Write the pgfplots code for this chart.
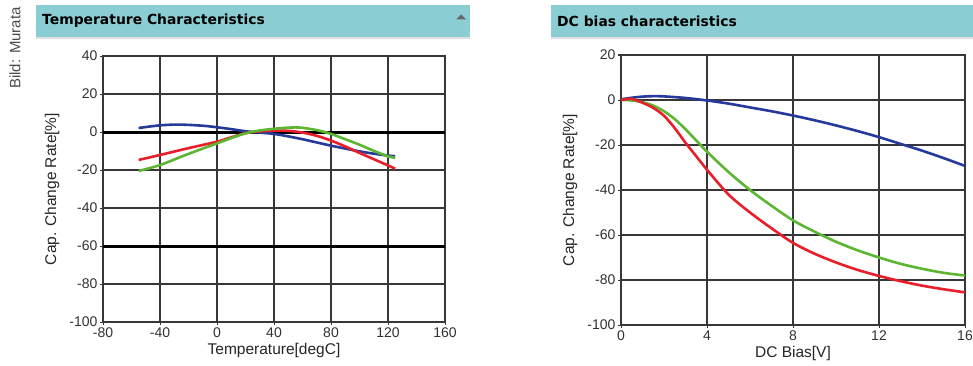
\documentclass[border=0pt]{standalone}
\usepackage{pgfplots}
\pgfplotsset{compat=1.18}
\usepackage{fontspec}
\setmainfont{Liberation Sans}
\newfontfamily\titlefont{DejaVu Sans}
\definecolor{barteal}{RGB}{138,206,211}
\definecolor{cblue}{RGB}{38,58,155}
\definecolor{cred}{RGB}{232,30,42}
\definecolor{cgreen}{RGB}{92,182,50}
\definecolor{gridc}{RGB}{55,55,55}
\definecolor{tickc}{RGB}{50,50,50}
\pgfplotsset{
  mychart/.style={
    scale only axis,
    grid=major,
    grid style={line width=2pt, gridc},
    axis line style={line width=2pt, gridc},
    tick align=outside, major tick length=3pt, tick pos=left,
    tick style={line width=1pt, gridc},
    ymin=-100, ymax=40,
    ytick={-100,-80,...,40},
    /pgf/number format/assume math mode=true,
    ticklabel style={font=\fontsize{14}{14}\selectfont, text=tickc},
    yticklabel style={xshift=1pt},
    xticklabel style={yshift=1pt},
    label style={font=\fontsize{15.5}{16}\selectfont, text=black!85},
    ylabel style={at={([xshift=-51pt]axis description cs:0,0.5)}, anchor=center},
    xlabel style={at={([yshift=-28pt]axis description cs:0.5,0)}, anchor=center},
    every axis plot/.append style={line width=2.6pt, smooth, no markers},
  }
}
\begin{document}
\begin{tikzpicture}[x=1pt,y=1pt]
\useasboundingbox (0,0) rectangle (973,365);
\fill[white] (0,0) rectangle (973,365);
% title bars
\fill[black!12] (36,325.5) rectangle (470,328.5);
\fill[barteal] (36,328) rectangle (470,360);
\node[anchor=west, inner sep=0pt] at (42,344) {\titlefont\bfseries\fontsize{13.9}{14}\selectfont Temperature Characteristics};
\fill[black!60] (456,345.5) -- (466,345.5) -- (461,350.5) -- cycle;
\fill[black!12] (551,325.5) rectangle (973,328.5);
\fill[barteal] (551,328) rectangle (973,360);
\node[anchor=west, inner sep=0pt] at (557,344) {\titlefont\bfseries\fontsize{13.9}{14}\selectfont DC bias characteristics};
\node[rotate=90, text=black!70, inner sep=0pt] at (15,317) {\fontsize{15}{15}\selectfont Bild: Murata};

\begin{axis}[mychart, at={(103pt,43pt)}, anchor=south west, width=342pt, height=266pt,
  xmin=-80, xmax=160, xtick={-80,-40,...,160},
  extra y ticks={0,-60}, extra y tick labels={},
  extra y tick style={grid style={line width=3pt, black}, major tick length=0pt},
  xlabel={Temperature[degC]}, ylabel={Cap. Change Rate[\%]}]
\addplot[cblue] coordinates {(-55,2.1) (-40,3.5) (-26,3.9) (-10,3.3) (0,2.5) (10,1.5) (20,0.4) (30,-0.3) (40,-1.0) (50,-2.3) (60,-3.8) (70,-5.5) (80,-7.2) (90,-8.7) (100,-10.2) (110,-11.4) (120,-12.4) (125,-12.8)};
\addplot[cred] coordinates {(-55,-14.7) (-40,-12.1) (-20,-8.5) (0,-5.1) (10,-2.8) (20,-0.6) (30,0.3) (40,0.7) (50,0.6) (60,-0.3) (70,-2) (80,-4.5) (90,-7.6) (100,-11) (110,-14.3) (120,-17.6) (125,-19.3)};
\addplot[cgreen] coordinates {(-55,-20.5) (-40,-17.4) (-20,-11.5) (0,-6) (10,-3.2) (20,-0.7) (30,0.8) (40,1.7) (50,2.3) (55,2.4) (60,2.2) (70,1) (80,-1) (90,-3.8) (100,-6.7) (110,-9.9) (120,-12.8) (125,-13.6)};
\end{axis}

\begin{axis}[mychart, at={(621pt,40pt)}, anchor=south west, width=344pt, height=270pt,
  xmin=0, xmax=16, xtick={0,4,...,16},
  ymax=20, ytick={-100,-80,...,20},
  xlabel={DC Bias[V]}, ylabel={Cap. Change Rate[\%]}]
\addplot[cblue] coordinates {(0,0.3) (0.5,1) (1,1.5) (1.5,1.7) (2,1.6) (3,0.9) (4,-0.2) (5,-1.6) (6,-3.3) (7,-5) (8,-6.9) (9,-9) (10,-11.3) (11,-13.8) (12,-16.5) (13,-19.5) (14,-22.5) (15,-25.8) (16,-29.3)};
\addplot[cgreen] coordinates {(0,0) (0.5,-0.2) (1,-1) (1.5,-2.5) (2,-5) (2.5,-8.5) (3,-13) (3.5,-18) (4,-23) (5,-32) (6,-40) (7,-47) (8,-53.5) (9,-58.5) (10,-63) (11,-66.8) (12,-70) (13,-72.8) (14,-75) (15,-76.8) (16,-78)};
\addplot[cred] coordinates {(0,0) (0.5,0.5) (1,-1.2) (1.5,-3.5) (2,-7) (2.5,-12.5) (3,-19) (3.5,-25) (4,-31) (5,-42) (6,-50) (7,-57) (8,-63.5) (9,-68.3) (10,-72.2) (11,-75.5) (12,-78.2) (13,-80.5) (14,-82.5) (15,-84.1) (16,-85.5)};
\end{axis}
\end{tikzpicture}
\end{document}
